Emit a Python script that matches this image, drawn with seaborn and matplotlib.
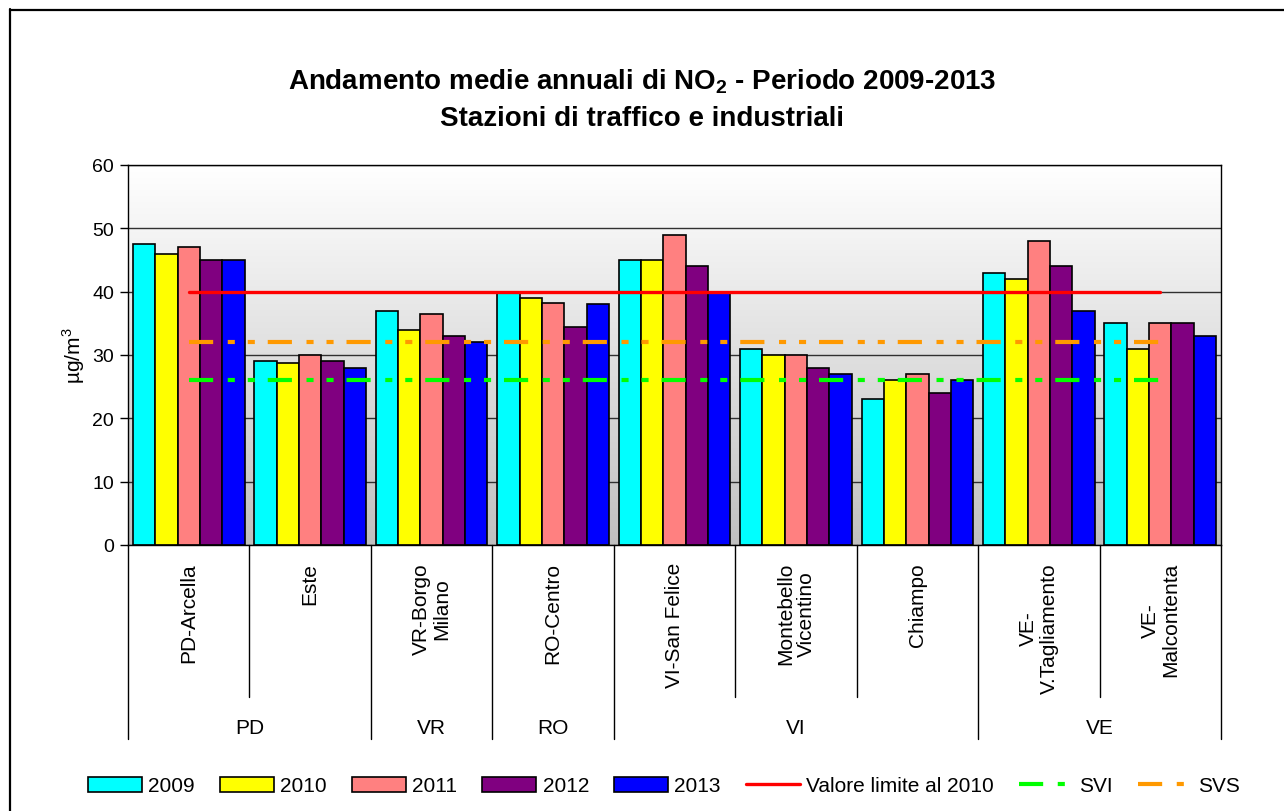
import numpy as np
import pandas as pd
import matplotlib
matplotlib.use("Agg")
import matplotlib.pyplot as plt
import seaborn as sns
from matplotlib.colors import LinearSegmentedColormap
from matplotlib.patches import Patch
from matplotlib.lines import Line2D

# dati: medie annuali NO2 (µg/m3)
stazioni = ["PD-Arcella", "Este", "VR-Borgo\nMilano", "RO-Centro", "VI-San Felice",
            "Montebello\nVicentino", "Chiampo", "VE-\nV.Tagliamento", "VE-\nMalcontenta"]
province = ["PD", "PD", "VR", "RO", "VI", "VI", "VI", "VE", "VE"]
anni = ["2009", "2010", "2011", "2012", "2013"]
v2009 = [47.5, 29.0, 37.0, 40.0, 45.0, 31.0, 23.0, 43.0, 35.0]
v2010 = [46.0, 28.7, 34.0, 39.0, 45.0, 30.0, 26.0, 42.0, 31.0]
v2011 = [47.0, 30.0, 36.5, 38.2, 49.0, 30.0, 27.0, 48.0, 35.0]
v2012 = [45.0, 29.0, 33.0, 34.4, 44.0, 28.0, 24.0, 44.0, 35.0]
v2013 = [45.0, 28.0, 32.0, 38.0, 40.0, 27.0, 26.0, 37.0, 33.0]
valore_limite = [40] * len(stazioni)
svi = [26] * len(stazioni)
svs = [32] * len(stazioni)

colori = ["#00ffff", "#ffff00", "#ff8080", "#800080", "#0000ff"]

df = pd.DataFrame({
    "stazione": stazioni * len(anni),
    "anno": np.repeat(anni, len(stazioni)),
    "valore": v2009 + v2010 + v2011 + v2012 + v2013,
})

sns.set_theme(style="white")
plt.rcParams["font.family"] = ["Liberation Sans", "DejaVu Sans"]
plt.rcParams["mathtext.fontset"] = "custom"
plt.rcParams["mathtext.rm"] = "Liberation Sans"
plt.rcParams["mathtext.bf"] = "Liberation Sans:bold"
for k in ["text.color", "axes.labelcolor", "xtick.color", "ytick.color"]:
    plt.rcParams[k] = "black"

W, H = 1284, 812
fig = plt.figure(figsize=(W / 100, H / 100), dpi=100)
ax = fig.add_axes([128 / W, 1 - 546 / H, (1221 - 128) / W, (546 - 166) / H])

sns.barplot(data=df, x="stazione", y="valore", hue="anno", order=stazioni,
            hue_order=anni, palette=colori, saturation=1, width=0.92,
            edgecolor="black", linewidth=1.2, legend=False, ax=ax, zorder=2)

n = len(stazioni)
xs = np.arange(n)
dash = (5.8, 3.5, 1.7, 3.1, 1.7, 3.1)
ax.plot(xs, valore_limite, color="#ff0000", lw=2.4, zorder=3)
ax.plot(xs, svi, color="#00ff00", lw=3, dashes=dash, zorder=3)
ax.plot(xs, svs, color="#ff9900", lw=3, dashes=dash, zorder=3)

# sfondo sfumato
cmap = LinearSegmentedColormap.from_list("bg", ["#c0c0c0", "#ffffff"])
grad = np.linspace(0, 1, 256).reshape(-1, 1)
ax.imshow(grad, extent=[-0.5, n - 0.5, 0, 60], origin="lower", aspect="auto",
          cmap=cmap, zorder=0)

ax.set_xlim(-0.5, n - 0.5)
ax.set_ylim(0, 60)
ax.set_yticks(range(0, 61, 10))
ax.yaxis.grid(True, color="#303030", lw=1)
for gl in ax.get_ygridlines():
    gl.set_zorder(1)
for sp in ax.spines.values():
    sp.set_color("black")
    sp.set_linewidth(1)
ax.tick_params(axis="y", direction="out", length=6, width=1, color="black",
               labelsize=14, pad=4, left=True)
ax.tick_params(axis="x", length=0, labelbottom=False)
ax.set_xlabel("")
ax.set_ylabel("µg/m$^3$", fontsize=15, labelpad=4)

# etichette categorie a due livelli
tr = ax.get_xaxis_transform()
for i, s in enumerate(stazioni):
    ax.text(i, -0.045, s, rotation=90, ha="center", va="top", fontsize=15,
            multialignment="center", linespacing=1.1, transform=tr, clip_on=False)

gruppi = []
start = 0
for i in range(1, n + 1):
    if i == n or province[i] != province[start]:
        gruppi.append((province[start], start, i - 1))
        start = i

confini = [g[1] - 0.5 for g in gruppi] + [n - 0.5]
for b in np.arange(n + 1) - 0.5:
    y_end = -0.51 if b in confini else -0.40
    ax.plot([b, b], [0, y_end], color="black", lw=1, transform=tr, clip_on=False)
for nome, a, b in gruppi:
    ax.text((a + b) / 2, -0.479, nome, ha="center", va="center", fontsize=15,
            transform=tr, clip_on=False)

# titolo
fig.text(0.5, 1 - 89 / H, "Andamento medie annuali di NO$_\\mathbf{2}$ - Periodo 2009-2013",
         ha="center", va="baseline", fontsize=20, fontweight="bold")
fig.text(0.5, 1 - 126 / H, "Stazioni di traffico e industriali",
         ha="center", va="baseline", fontsize=20, fontweight="bold")

# legenda
handles = [Patch(facecolor=c, edgecolor="black", lw=1.2, label=a) for a, c in zip(anni, colori)]
handles += [Line2D([], [], color="#ff0000", lw=2.4, label="Valore limite al 2010"),
            Line2D([], [], color="#00ff00", lw=3, dashes=dash, label="SVI"),
            Line2D([], [], color="#ff9900", lw=3, dashes=dash, label="SVS")]
fig.legend(handles=handles, loc="center", bbox_to_anchor=(0.5 + 22 / W, 1 - 787 / H), ncol=8,
           frameon=False, fontsize=15, handlelength=2.6, handleheight=0.7,
           handletextpad=0.3, columnspacing=1.2)

# cornice
fig.add_artist(Line2D([10 / W, 1], [1 - 10.5 / H] * 2, color="black", lw=1.6))
fig.add_artist(Line2D([10.5 / W] * 2, [0, 1 - 10 / H], color="black", lw=1.6))

fig.savefig("out.png", dpi=100, facecolor="white")
